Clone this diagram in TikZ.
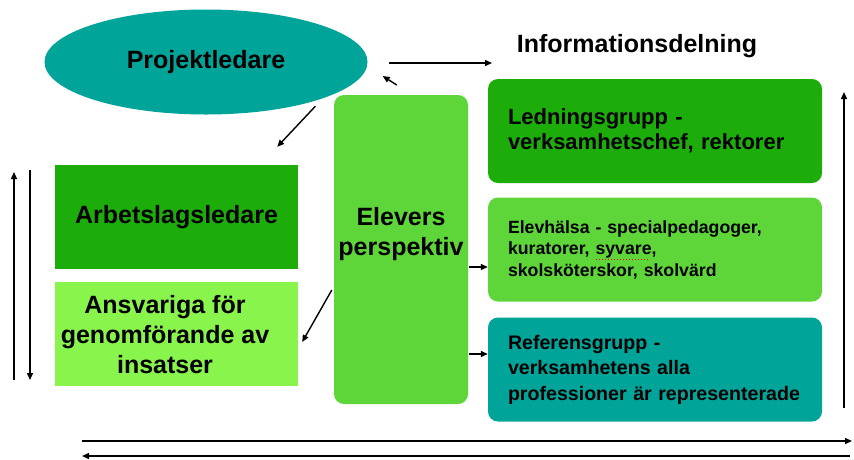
\documentclass[tikz,border=0pt]{standalone}
\usepackage{fontspec}
\setmainfont{Liberation Sans}
\usetikzlibrary{shapes.geometric,arrows.meta,calc}
\definecolor{tealfill}{RGB}{0,164,153}
\definecolor{darkfill}{RGB}{28,173,10}
\definecolor{midfill}{RGB}{94,214,58}
\definecolor{lightfill}{RGB}{136,244,76}
\newcommand{\bigfont}{\bfseries\fontsize{25}{30}\selectfont}
\tikzset{
  arr/.style={-{Triangle[length=7pt,width=6pt]}, line width=1.4pt},
  flatbox/.style={inner sep=0pt, minimum width=243pt, minimum height=104pt},
  roundbox/.style={rounded corners=10pt, inner ysep=0pt, inner xsep=20pt,
    text width=294pt, minimum height=104pt, align=left},
  bigtext/.style={font=\bigfont, align=center, inner sep=0pt}
}

\begin{document}
\begin{tikzpicture}[x=1pt,y=-1pt]
  \useasboundingbox (0,0) rectangle (854,459);

  \node[ellipse, fill=tealfill, inner sep=0pt, minimum width=323pt, minimum height=105pt,
    font=\bigfont] (proj) at (206,62) {Projektledare};
  \node[font=\bfseries\fontsize{25}{28}\selectfont, inner sep=0pt] (info) at (637,46) {Informationsdelning};

  \node[fill=midfill, rounded corners=10pt, inner sep=0pt, minimum width=134pt,
    minimum height=309pt] (elev) at (401,249.5) {};
  \node[bigtext] (elevtxt) at (401,234) {Elevers\\perspektiv};

  \node[flatbox, fill=darkfill, font=\bigfont] (arb) at (176.5,217) {Arbetslagsledare};
  \node[flatbox, fill=lightfill] (ansv) at (176.5,334) {};
  \node[bigtext] (ansvtxt) at (165,335) {Ansvariga för\\genomförande av\\insatser};

  \node[roundbox, fill=darkfill, font=\bfseries\fontsize{22}{25}\selectfont] (ledn) at (655,131)
    {Ledningsgrupp -\\verksamhetschef, rektorer};
  \node[roundbox, fill=midfill, font=\bfseries\fontsize{17.7}{21.5}\selectfont] (elevh) at (655,249.5)
    {Elevhälsa - specialpedagoger,\\kuratorer, syvare,\\skolsköterskor, skolvärd};
  \node[roundbox, fill=tealfill, font=\bfseries\fontsize{19.6}{25.5}\selectfont] (ref) at (655,369.5)
    {Referensgrupp -\\verksamhetens alla\\professioner är representerade};
  \draw[red, dotted, line width=1pt] (596,259) -- (648,259);

  \coordinate (infoL) at (389,63);
  \coordinate (infoR) at (492,63);
  \draw[arr] (infoL) -- (infoR);
  \draw[arr] ($(proj.east)+(29,23)$) -- ($(proj.east)+(15,14)$);
  \draw[arr] ($(proj.south east)+(-5,7)$) coordinate (pa) -- ($(arb.north east)+(-21,-18)$) coordinate (pb);
  \draw[arr] ($(elev.west)+(-2,40.5)$) -- ($(ansv.east)+(4,8)$);
  \draw[arr] ($(elevh.west)+(-19,17.5)$) -- ($(elevh.west)+(0,17.5)$);
  \draw[arr] ($(ref.west)+(-19,-15.5)$) -- ($(ref.west)+(0,-15.5)$);

  \coordinate (lup) at (14,380);
  \coordinate (ldown) at (30,170);
  \draw[arr] (lup) -- (14,172);
  \draw[arr] (ldown) -- (30,380);
  \coordinate (bl) at (82,441);
  \coordinate (br) at (852,441);
  \draw[arr] (bl) -- (br);
  \draw[arr] (850,456) -- (82,456);
  \coordinate (rdown) at (844,408);
  \draw[arr] (rdown) -- (844,92);
\end{tikzpicture}
\end{document}
